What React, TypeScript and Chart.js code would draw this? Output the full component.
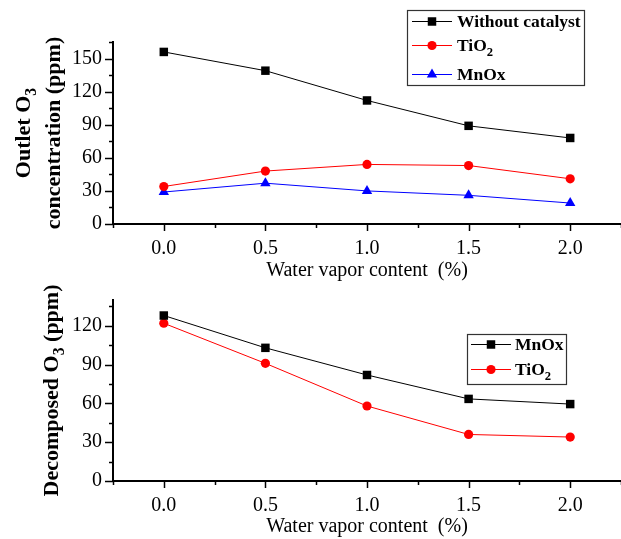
import React, { useEffect, useRef } from 'react';
import { Chart, registerables } from 'chart.js';

Chart.register(...registerables);

// ---------- data ----------
const waterVapor = [0.0, 0.5, 1.0, 1.5, 2.0];
const outletWithoutCatalyst = [156, 139, 112, 89, 78];
const outletTiO2 = [34, 48, 54, 53, 41];
const outletMnOx = [29, 37, 30, 26, 19];
const decomposedMnOx = [128, 103, 82, 63.5, 59.5];
const decomposedTiO2 = [122, 91, 58, 36, 34];

const xTickValues = [0.0, 0.5, 1.0, 1.5, 2.0];
const topYTickValues = [0, 30, 60, 90, 120, 150];
const bottomYTickValues = [0, 30, 60, 90, 120];

const xTitle = 'Water vapor content  (%)';
const topYTitle = ['Outlet O\u2083', 'concentration (ppm)'];
const bottomYTitle = ['Decomposed O\u2083 (ppm)'];

const SERIF = '"Liberation Serif", "Times New Roman", Times, serif';

const SUBS: Record<string, string> = {
  '\u2080': '0', '\u2081': '1', '\u2082': '2', '\u2083': '3', '\u2084': '4',
};

function splitRich(text: string) {
  const parts: { t: string; sub: boolean }[] = [];
  for (const ch of text) {
    const sub = ch in SUBS;
    const t = sub ? SUBS[ch] : ch;
    const last = parts[parts.length - 1];
    if (last && last.sub === sub) last.t += t;
    else parts.push({ t, sub });
  }
  return parts;
}

function fontStr(size: number, bold: boolean) {
  return `${bold ? 'bold ' : ''}${size}px ${SERIF}`;
}

function richWidth(ctx: CanvasRenderingContext2D, text: string, size: number, bold: boolean) {
  let w = 0;
  for (const p of splitRich(text)) {
    ctx.font = fontStr(p.sub ? size * 0.72 : size, bold);
    w += ctx.measureText(p.t).width;
  }
  return w;
}

function drawRich(
  ctx: CanvasRenderingContext2D, text: string, x: number, y: number,
  size: number, bold: boolean, align: 'left' | 'center'
) {
  let cx = align === 'center' ? x - richWidth(ctx, text, size, bold) / 2 : x;
  ctx.textAlign = 'left';
  ctx.textBaseline = 'alphabetic';
  for (const p of splitRich(text)) {
    const s = p.sub ? size * 0.72 : size;
    ctx.font = fontStr(s, bold);
    ctx.fillText(p.t, cx, p.sub ? y + size * 0.28 : y);
    cx += ctx.measureText(p.t).width;
  }
}

function drawMarker(ctx: CanvasRenderingContext2D, style: string, x: number, y: number, r: number, color: string) {
  ctx.save();
  ctx.fillStyle = color;
  ctx.beginPath();
  if (style === 'rect') {
    const s = Math.SQRT1_2 * r;
    ctx.rect(x - s, y - s, 2 * s, 2 * s);
  } else if (style === 'triangle') {
    const a = (Math.PI * 2) / 3;
    ctx.moveTo(x, y - r);
    ctx.lineTo(x + Math.sin(a) * r, y - Math.cos(a) * r);
    ctx.lineTo(x - Math.sin(a) * r, y - Math.cos(a) * r);
    ctx.closePath();
  } else {
    ctx.arc(x, y, r, 0, Math.PI * 2);
  }
  ctx.fill();
  ctx.restore();
}

type Deco = {
  yTitle: { lines: string[]; xs: number[] };
  legend: { x: number; y: number; w: number; h: number; rows: number[]; lineX0: number; lineX1: number; textX: number };
  yMinorStep: number;
};

const decoPlugin = {
  id: 'deco',
  afterDraw(chart: any, _args: any, opts: Deco) {
    const ctx: CanvasRenderingContext2D = chart.ctx;
    const area = chart.chartArea;
    const xs = chart.scales.x;
    const ys = chart.scales.y;
    ctx.save();
    ctx.strokeStyle = '#000';
    ctx.lineWidth = 1.5;
    // x ticks (major + minor)
    for (let v = xs.min; v <= xs.max + 1e-9; v += 0.25) {
      const px = Math.round(xs.getPixelForValue(v)) + 0.5;
      const major = Math.abs(v / 0.5 - Math.round(v / 0.5)) < 1e-6;
      ctx.beginPath();
      ctx.moveTo(px, area.bottom);
      ctx.lineTo(px, area.bottom + (major ? 7 : 4));
      ctx.stroke();
    }
    // y ticks (major + minor)
    for (let v = 0; v <= ys.max + 1e-9; v += opts.yMinorStep) {
      const py = Math.round(ys.getPixelForValue(v)) + 0.5;
      const major = Math.abs(v / 30 - Math.round(v / 30)) < 1e-6;
      ctx.beginPath();
      ctx.moveTo(area.left, py);
      ctx.lineTo(area.left - (major ? 8 : 4), py);
      ctx.stroke();
    }
    // y title (rotated, with subscripts)
    const cy = (area.top + area.bottom) / 2;
    ctx.fillStyle = '#000';
    opts.yTitle.lines.forEach((line, i) => {
      ctx.save();
      ctx.translate(opts.yTitle.xs[i], cy);
      ctx.rotate(-Math.PI / 2);
      drawRich(ctx, line, 0, 7.5, 22, true, 'center');
      ctx.restore();
    });
    // legend
    const L = opts.legend;
    ctx.fillStyle = '#fff';
    ctx.fillRect(L.x, L.y, L.w, L.h);
    ctx.strokeStyle = '#333';
    ctx.lineWidth = 1.2;
    ctx.strokeRect(L.x + 0.5, L.y + 0.5, L.w, L.h);
    chart.data.datasets.forEach((ds: any, i: number) => {
      const ry = L.rows[i];
      ctx.strokeStyle = ds.borderColor;
      ctx.lineWidth = 1;
      ctx.beginPath();
      ctx.moveTo(L.lineX0, ry + 0.5);
      ctx.lineTo(L.lineX1, ry + 0.5);
      ctx.stroke();
      drawMarker(ctx, ds.pointStyle, (L.lineX0 + L.lineX1) / 2, ry + 0.5, ds.pointRadius, ds.backgroundColor);
      ctx.fillStyle = '#000';
      drawRich(ctx, ds.label, L.textX, ry + 6, 17.5, true, 'left');
    });
    ctx.restore();
  },
};

function zeroPad(s: any) {
  s.paddingLeft = 0;
  s.paddingRight = 0;
  s.paddingTop = 0;
  s.paddingBottom = 0;
}

function makeConfig(
  datasets: any[], yMax: number, yTicks: number[], padTop: number, xAxisHeight: number, deco: Deco
) {
  return {
    type: 'line' as const,
    data: { datasets },
    plugins: [decoPlugin],
    options: {
      animation: false as const,
      responsive: false,
      devicePixelRatio: 1,
      layout: { autoPadding: false, padding: { top: padTop, left: 0, right: 0, bottom: 0 } },
      plugins: {
        legend: { display: false },
        tooltip: { enabled: false },
        deco,
      },
      scales: {
        x: {
          type: 'linear' as const,
          min: -0.25,
          max: 2.25,
          afterBuildTicks: (s: any) => { s.ticks = xTickValues.map((v) => ({ value: v })); },
          afterFit: (s: any) => { s.height = xAxisHeight; zeroPad(s); },
          grid: { display: false, drawTicks: false },
          border: { display: true, color: '#000', width: 2 },
          ticks: {
            autoSkip: false,
            maxRotation: 0,
            padding: 13,
            color: '#000',
            font: { family: SERIF, size: 20 },
            callback: (v: any) => Number(v).toFixed(1),
          },
          title: {
            display: true,
            text: xTitle,
            color: '#000',
            font: { family: SERIF, size: 20, lineHeight: 1.2 },
            padding: { top: 0, bottom: 0 },
          },
        },
        y: {
          type: 'linear' as const,
          min: 0,
          max: yMax,
          afterBuildTicks: (s: any) => { s.ticks = yTicks.map((v) => ({ value: v })); },
          afterFit: (s: any) => { s.width = 113; zeroPad(s); },
          grid: { display: false, drawTicks: false },
          border: { display: true, color: '#000', width: 2 },
          ticks: {
            padding: 11,
            color: '#000',
            font: { family: SERIF, size: 20 },
          },
        },
      },
    },
  };
}

function series(label: string, values: number[], color: string, pointStyle: string, r: number) {
  return {
    label,
    data: waterVapor.map((x, i) => ({ x, y: values[i] })),
    borderColor: color,
    backgroundColor: color,
    borderWidth: 1,
    pointStyle,
    pointRadius: r,
    pointBorderWidth: 0,
    pointBackgroundColor: color,
    pointBorderColor: color,
    tension: 0,
  };
}

export default function App() {
  const topRef = useRef<HTMLCanvasElement>(null);
  const bottomRef = useRef<HTMLCanvasElement>(null);

  useEffect(() => {
    const top = new Chart(
      topRef.current!,
      makeConfig(
        [
          series('Without catalyst', outletWithoutCatalyst, '#000000', 'rect', 6),
          series('TiO\u2082', outletTiO2, '#ff0000', 'circle', 4.6),
          series('MnOx', outletMnOx, '#0000ff', 'triangle', 6),
        ],
        165, topYTickValues, 42, 59,
        {
          yTitle: { lines: topYTitle, xs: [22, 52] },
          legend: { x: 407, y: 10, w: 177, h: 75, rows: [21, 45, 74], lineX0: 412, lineX1: 452, textX: 457 },
          yMinorStep: 15,
        }
      ) as any
    );
    const bottom = new Chart(
      bottomRef.current!,
      makeConfig(
        [
          series('MnOx', decomposedMnOx, '#000000', 'rect', 6),
          series('TiO\u2082', decomposedTiO2, '#ff0000', 'circle', 4.6),
        ],
        140, bottomYTickValues, 17, 58,
        {
          yTitle: { lines: bottomYTitle, xs: [50] },
          legend: { x: 467, y: 51, w: 99, h: 50, rows: [61, 86], lineX0: 471, lineX1: 511, textX: 515 },
          yMinorStep: 15,
        }
      ) as any
    );
    return () => {
      top.destroy();
      bottom.destroy();
    };
  }, []);

  return (
    <div style={{ position: 'absolute', left: 0, top: 0, width: 621, height: 539, background: '#fff' }}>
      <canvas ref={topRef} width={621} height={283} style={{ display: 'block' }} />
      <canvas ref={bottomRef} width={621} height={256} style={{ display: 'block' }} />
    </div>
  );
}
